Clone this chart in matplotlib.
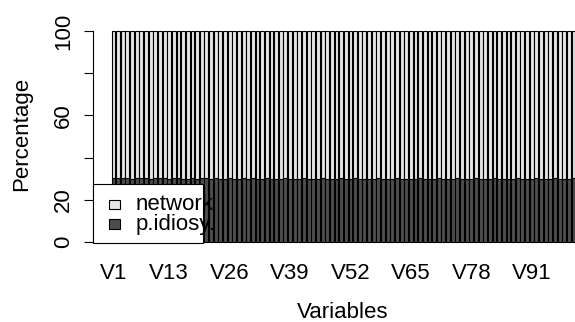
import matplotlib
matplotlib.use("Agg")
import matplotlib.pyplot as plt
from matplotlib.patches import Rectangle

plt.rcParams["font.family"] = ["Liberation Sans", "DejaVu Sans"]

# Share of each variable's variance: idiosyncratic part (bottom) and network part (top)
variables = [f"V{i}" for i in range(1, 101)]
p_idiosy = [
    30.2, 30.3, 30.1, 30.2, 30.0, 30.1, 30.2, 30.1, 30.0, 30.1,
    30.2, 30.1, 30.0, 30.1, 30.2, 30.0, 29.9, 30.1, 30.0, 30.1,
    30.2, 30.0, 30.1, 30.0, 29.9, 30.1, 30.0, 29.8, 30.1, 30.0,
    30.1, 29.9, 30.0, 30.1, 30.0, 29.8, 30.0, 30.1, 30.0, 29.9,
    30.0, 30.1, 30.0, 29.9, 30.0, 30.1, 30.0, 29.9, 30.0, 30.1,
    30.0, 29.9, 30.1, 30.0, 30.0, 29.9, 30.0, 30.1, 30.0, 29.9,
    30.0, 30.1, 30.0, 29.9, 30.0, 30.0, 30.1, 29.9, 30.0, 30.0,
    30.1, 30.0, 29.9, 30.0, 30.1, 30.0, 29.9, 30.0, 30.1, 30.0,
    29.9, 30.0, 30.1, 30.0, 29.9, 30.0, 30.0, 30.1, 30.0, 29.9,
    30.0, 30.1, 30.0, 29.9, 30.0, 30.1, 30.0, 29.9, 30.0, 30.1,
]
network = [100 - v for v in p_idiosy]
series_names = ["network", "p.idiosy."]
shown_xlabels = ["V1", "V13", "V26", "V39", "V52", "V65", "V78", "V91"]
yticks = [0, 20, 40, 60, 80, 100]
ytick_labels = ["0", "20", "", "60", "", "100"]

col_dark = "#4D4D4D"
col_light = "#E6E6E6"
FS = 16

W, H = 575, 322
fig = plt.figure(figsize=(W / 100, H / 100), dpi=100)

# plot region in pixels (extends past the right edge of the figure)
left_px, right_px, top_px, bottom_px = 93, 594, 22.6, 250.4
ax = fig.add_axes([left_px / W, 1 - bottom_px / H,
                   (right_px - left_px) / W, (bottom_px - top_px) / H])

# barplot geometry: width 1, space 0.2
n = len(variables)
lefts = [0.2 + 1.2 * i for i in range(n)]
centers = [l + 0.5 for l in lefts]

lw = 0.8
ax.bar(centers, p_idiosy, width=1.0, color=col_dark, edgecolor="black",
       linewidth=lw, zorder=2)
ax.bar(centers, network, width=1.0, bottom=p_idiosy, color=col_light,
       edgecolor="black", linewidth=lw, zorder=2)

xmin, xmax = lefts[0], lefts[-1] + 1.0
pad = 0.04 * (xmax - xmin)
ax.set_xlim(xmin - pad, xmax + pad)
ax.set_ylim(-4, 104)

for s in ["top", "right", "bottom"]:
    ax.spines[s].set_visible(False)
ax.spines["left"].set_bounds(0, 100)
ax.spines["left"].set_linewidth(lw)
ax.set_facecolor("none")

ax.set_yticks(yticks)
ax.set_yticklabels(ytick_labels, rotation=90, va="center", fontsize=FS)
ax.tick_params(axis="y", length=6.5, width=lw, pad=7)

idx = [variables.index(v) for v in shown_xlabels]
ax.set_xticks([centers[i] for i in idx])
ax.set_xticklabels(shown_xlabels, fontsize=FS)
ax.tick_params(axis="x", length=0, pad=9)

fig.text(22 / W, 1 - 134 / H, "Percentage", rotation=90, ha="center",
         va="center", fontsize=FS)
fig.text(343 / W, 1 - 313 / H, "Variables", ha="center", va="center",
         fontsize=FS)

# legend box (drawn over the bars, in figure pixel coordinates)
def fx(x):
    return x / W

def fy(y):
    return 1 - y / H

leg = Rectangle((fx(93), fy(242.5)), fx(203) - fx(93), fy(184) - fy(242.5),
                transform=fig.transFigure, facecolor="white",
                edgecolor="black", linewidth=lw, zorder=5)
fig.patches.append(leg)
for name, col, yc in [(series_names[0], col_light, 204.5),
                      (series_names[1], col_dark, 224.2)]:
    sq = Rectangle((fx(108.7), fy(yc + 4.9)), fx(120.3) - fx(108.7),
                   fy(yc - 4.9) - fy(yc + 4.9), transform=fig.transFigure,
                   facecolor=col, edgecolor="black", linewidth=lw, zorder=6)
    fig.patches.append(sq)
    fig.text(fx(135.5), fy(yc), name, ha="left", va="center", fontsize=FS,
             zorder=7)

fig.savefig("out.png", dpi=100)
